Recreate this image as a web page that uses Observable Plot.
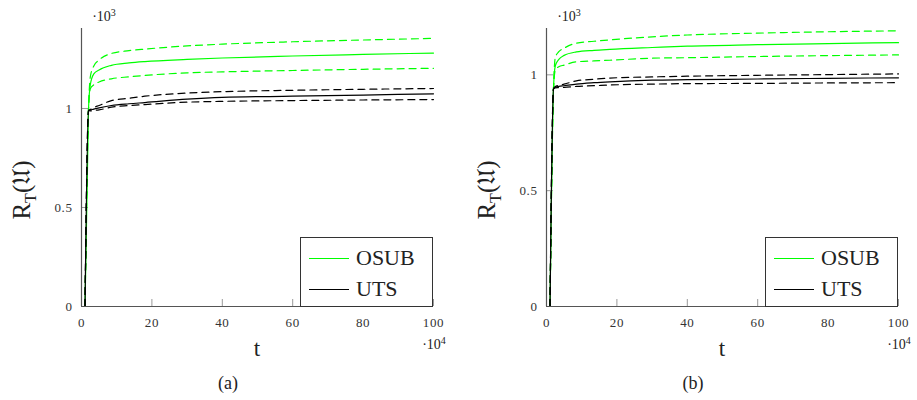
<!DOCTYPE html>
<html>
<head>
<meta charset="utf-8">
<script src="https://cdn.jsdelivr.net/npm/d3@7"></script>
<script src="https://cdn.jsdelivr.net/npm/@observablehq/plot@0.6"></script>
<style>
  html, body { margin: 0; padding: 0; background: #fff; }
  #root { position: relative; width: 917px; height: 400px; font-family: "Liberation Serif", "Times New Roman", serif; color: #222; }
  .abs { position: absolute; white-space: nowrap; transform: translate(-50%, -50%); line-height: 1; }
  .legend { position: absolute; background: #fff; border: 1px solid #333; box-sizing: border-box; }
  .legend .row { position: absolute; left: 8px; display: flex; align-items: center; font-size: 22px; line-height: 1; }
  .legend .sw { width: 40px; height: 1px; margin-right: 7px; }
  svg { position: absolute; top: 0; }
</style>
</head>
<body>
<div id="root"></div>
<script>
// ---- data (t in units of 10^4, regret in units of 10^3) ----
const tValues = [1, 2, 2.5, 3.5, 5, 8.5, 13.5, 18, 30, 40, 60, 80, 100];

// panel (a)
const aOsubMean = [0, 1.00, 1.12, 1.175, 1.195, 1.218, 1.230, 1.237, 1.248, 1.255, 1.265, 1.273, 1.280];
const aOsubHigh = [0, 1.00, 1.16, 1.215, 1.245, 1.278, 1.292, 1.300, 1.316, 1.325, 1.337, 1.346, 1.354];
const aOsubLow  = [0, 1.00, 1.10, 1.120, 1.134, 1.150, 1.160, 1.167, 1.180, 1.185, 1.192, 1.198, 1.203];
const aUtsMean  = [0, 0.99, 0.992, 0.997, 1.003, 1.015, 1.024, 1.030, 1.047, 1.056, 1.062, 1.068, 1.074];
const aUtsHigh  = [0, 0.99, 0.995, 1.005, 1.015, 1.040, 1.052, 1.062, 1.078, 1.085, 1.092, 1.097, 1.101];
const aUtsLow   = [0, 0.99, 0.988, 0.990, 0.993, 1.007, 1.015, 1.020, 1.032, 1.036, 1.040, 1.043, 1.045];

// panel (b)
const bOsubMean = [0, 0.945, 1.039, 1.067, 1.084, 1.099, 1.106, 1.110, 1.118, 1.124, 1.130, 1.135, 1.139];
const bOsubHigh = [0, 0.945, 1.075, 1.100, 1.115, 1.137, 1.145, 1.151, 1.164, 1.172, 1.180, 1.186, 1.190];
const bOsubLow  = [0, 0.945, 1.020, 1.035, 1.042, 1.056, 1.060, 1.063, 1.072, 1.074, 1.079, 1.083, 1.086];
const bUtsMean  = [0, 0.940, 0.946, 0.950, 0.953, 0.960, 0.966, 0.970, 0.977, 0.979, 0.982, 0.985, 0.987];
const bUtsHigh  = [0, 0.940, 0.950, 0.955, 0.960, 0.974, 0.981, 0.986, 0.991, 0.994, 0.998, 1.001, 1.004];
const bUtsLow   = [0, 0.940, 0.944, 0.945, 0.946, 0.950, 0.953, 0.956, 0.960, 0.962, 0.963, 0.965, 0.966];

const xTicks = [0, 20, 40, 60, 80, 100];
const yTicks = [0, 0.5, 1];
const yTickLabels = ["0", "0.5", "1"];
const seriesNames = ["OSUB", "UTS"];
const seriesColors = ["#00ff00", "#000000"];

function rows(vals) { return tValues.map((t, i) => ({t, v: vals[i]})); }

function panel(series, yMax) {
  const W = 458, H = 345, mL = 81, mR = 25, mT = 28, mB = 39;
  const innerW = W - mL - mR, innerH = H - mT - mB;
  const lineOpts = (color, dashed) => ({
    x: "t", y: "v", stroke: color, strokeWidth: 1.2, curve: "monotone-x",
    strokeDasharray: dashed ? "7,5" : null
  });
  const marks = [
    // inward tick marks
    Plot.ruleX(xTicks, {x: d => d, insetTop: innerH - 7, stroke: "#999", strokeWidth: 1}),
    Plot.ruleY(yTicks, {y: d => d, insetRight: innerW - 7, stroke: "#999", strokeWidth: 1}),
    Plot.axisX({ticks: xTicks, tickSize: 0, tickPadding: 11, fontSize: 13, label: null, tickFormat: d => String(d)}),
    Plot.axisY({ticks: yTicks, tickSize: 0, tickPadding: 9, fontSize: 13, label: null,
      tickFormat: d => yTickLabels[yTicks.indexOf(d)]}),
  ];
  series.forEach(s => {
    marks.push(Plot.line(rows(s.high), lineOpts(s.color, true)));
    marks.push(Plot.line(rows(s.low), lineOpts(s.color, true)));
    marks.push(Plot.line(rows(s.mean), lineOpts(s.color, false)));
  });
  marks.push(Plot.ruleX([0], {stroke: "#555", strokeWidth: 1.2}));
  marks.push(Plot.ruleY([0], {stroke: "#555", strokeWidth: 1.2}));
  return Plot.plot({
    width: W, height: H, marginLeft: mL, marginRight: mR, marginTop: mT, marginBottom: mB,
    style: {fontFamily: "'Liberation Serif', 'Times New Roman', serif", color: "#333", background: "transparent", letterSpacing: "0.6px"},
    x: {domain: [0, 100]},
    y: {domain: [0, yMax]},
    marks
  });
}

const root = document.getElementById("root");
function addText(html, x, y, size, extra) {
  const d = document.createElement("div");
  d.className = "abs";
  d.style.left = x + "px"; d.style.top = y + "px"; d.style.fontSize = size + "px";
  if (extra) d.style.transform = extra;
  d.innerHTML = html;
  root.appendChild(d);
}
function addLegend(left) {
  const lg = document.createElement("div");
  lg.className = "legend";
  lg.style.left = left + "px"; lg.style.top = "237px"; lg.style.width = "133px"; lg.style.height = "70px";
  seriesNames.forEach((name, i) => {
    const r = document.createElement("div");
    r.className = "row";
    r.style.top = (i === 0 ? 9 : 40) + "px";
    r.innerHTML = `<span class="sw" style="background:${seriesColors[i]}"></span><span>${name}</span>`;
    lg.appendChild(r);
  });
  root.appendChild(lg);
}

const panels = [
  {left: 0, yMax: 1.404, label: "(a)", data: [aOsubMean, aOsubHigh, aOsubLow, aUtsMean, aUtsHigh, aUtsLow]},
  {left: 465, yMax: 1.2, label: "(b)", data: [bOsubMean, bOsubHigh, bOsubLow, bUtsMean, bUtsHigh, bUtsLow]}
];
panels.forEach(p => {
  const series = [
    {color: seriesColors[0], mean: p.data[0], high: p.data[1], low: p.data[2]},
    {color: seriesColors[1], mean: p.data[3], high: p.data[4], low: p.data[5]}
  ];
  const svg = panel(series, p.yMax);
  svg.style.left = p.left + "px";
  root.appendChild(svg);
  addLegend(p.left + 300);
  addText("·10<sup style='font-size:10px'>3</sup>", p.left + 104, 16, 14);
  addText("·10<sup style='font-size:10px'>4</sup>", p.left + 434, 344, 14);
  addText("t", p.left + 257, 348, 23);
  addText("R<sub style='font-size:16px'>T</sub>(𝔘)", p.left + 24, 190, 25, "translate(-50%,-50%) rotate(-90deg)");
  addText(p.label, p.left + 228, 383, 18);
});
</script>
</body>
</html>
